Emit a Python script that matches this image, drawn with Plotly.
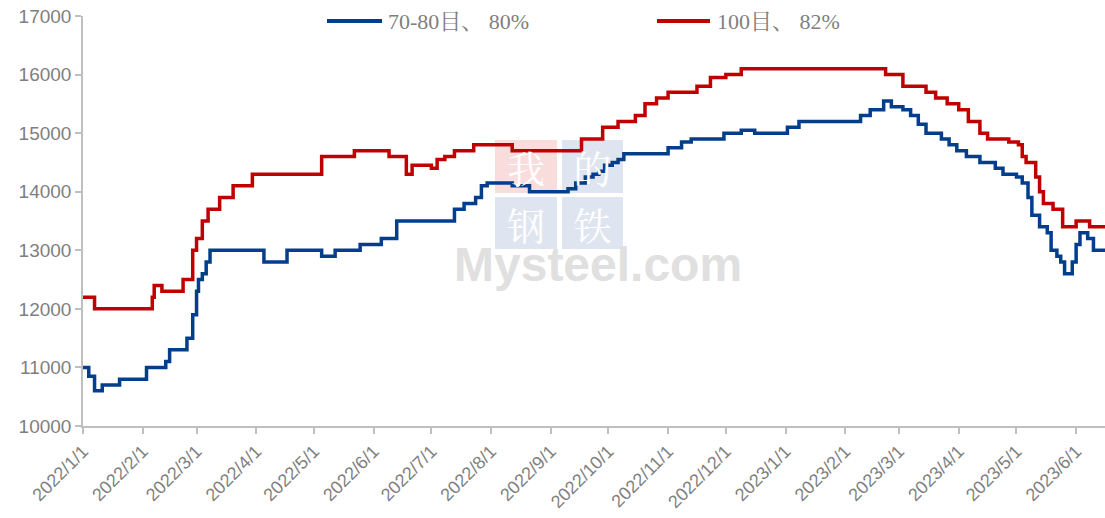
import plotly.graph_objects as go

# ---- data (change points; step line) ----
blue_dates = ["2022-01-01", "2022-01-04", "2022-01-07", "2022-01-11", "2022-01-20", "2022-02-03",
              "2022-02-13", "2022-02-15", "2022-02-24", "2022-02-27", "2022-03-01", "2022-03-02",
              "2022-03-04", "2022-03-06", "2022-03-08", "2022-04-05", "2022-04-17", "2022-05-05",
              "2022-05-12", "2022-05-25", "2022-06-05", "2022-06-13", "2022-07-13", "2022-07-18",
              "2022-07-24", "2022-07-27", "2022-07-30", "2022-08-12", "2022-08-21", "2022-09-10",
              "2022-09-14", "2022-09-19", "2022-09-23", "2022-09-26", "2022-09-29", "2022-10-03",
              "2022-10-06", "2022-10-09", "2022-11-01", "2022-11-08", "2022-11-13", "2022-11-30",
              "2022-12-09", "2022-12-16", "2023-01-02", "2023-01-08", "2023-02-09", "2023-02-14",
              "2023-02-21", "2023-02-25", "2023-03-03", "2023-03-07", "2023-03-11", "2023-03-15",
              "2023-03-23", "2023-03-27", "2023-03-31", "2023-04-05", "2023-04-12", "2023-04-20",
              "2023-04-24", "2023-05-01", "2023-05-04", "2023-05-07", "2023-05-09", "2023-05-13",
              "2023-05-17", "2023-05-19", "2023-05-22", "2023-05-24", "2023-05-26", "2023-05-30",
              "2023-06-01", "2023-06-03", "2023-06-07", "2023-06-10", "2023-06-16"]
blue_values = [11000, 10850, 10600, 10700, 10800, 11000,
               11100, 11300, 11500, 11900, 12300, 12500,
               12600, 12800, 13000, 12800, 13000, 12900,
               13000, 13100, 13200, 13500, 13700, 13800,
               13900, 14100, 14150, 14100, 14000, 14050,
               14150, 14250, 14300, 14350, 14450, 14500,
               14550, 14650, 14750, 14850, 14900, 15000,
               15050, 15000, 15100, 15200, 15300, 15400,
               15550, 15450, 15400, 15300, 15150, 15000,
               14900, 14800, 14700, 14600, 14500, 14400,
               14300, 14250, 14150, 13900, 13600, 13400,
               13300, 13000, 12900, 12800, 12600, 12800,
               13100, 13300, 13200, 13000, 13000]

red_dates = ["2022-01-01", "2022-01-07", "2022-02-06", "2022-02-07", "2022-02-11", "2022-02-22",
             "2022-02-27", "2022-03-01", "2022-03-04", "2022-03-07", "2022-03-13", "2022-03-20",
             "2022-03-30", "2022-05-05", "2022-05-22", "2022-06-09", "2022-06-18", "2022-06-21",
             "2022-07-01", "2022-07-04", "2022-07-08", "2022-07-13", "2022-07-23", "2022-08-12",
             "2022-09-17", "2022-09-28", "2022-10-06", "2022-10-15", "2022-10-20", "2022-10-26",
             "2022-11-01", "2022-11-16", "2022-11-23", "2022-12-01", "2022-12-09", "2023-02-22",
             "2023-03-03", "2023-03-15", "2023-03-20", "2023-03-26", "2023-04-01", "2023-04-06",
             "2023-04-12", "2023-04-16", "2023-04-27", "2023-05-02", "2023-05-04", "2023-05-06",
             "2023-05-11", "2023-05-13", "2023-05-15", "2023-05-20", "2023-05-25", "2023-06-01",
             "2023-06-08", "2023-06-16"]
red_values = [12200, 12000, 12200, 12400, 12300, 12500,
              13000, 13200, 13500, 13700, 13900, 14100,
              14300, 14600, 14700, 14600, 14300, 14450,
              14400, 14550, 14600, 14700, 14800, 14700,
              14900, 15100, 15200, 15300, 15500, 15600,
              15700, 15800, 15950, 16000, 16100, 16000,
              15800, 15700, 15600, 15500, 15400, 15200,
              15000, 14900, 14850, 14800, 14600, 14500,
              14250, 14000, 13800, 13700, 13400, 13500,
              13400, 13400]

series_names = ["70-80目、 80%", "100目、 82%"]
tick_dates = ["2022-01-01", "2022-02-01", "2022-03-01", "2022-04-01", "2022-05-01", "2022-06-01",
              "2022-07-01", "2022-08-01", "2022-09-01", "2022-10-01", "2022-11-01", "2022-12-01",
              "2023-01-01", "2023-02-01", "2023-03-01", "2023-04-01", "2023-05-01", "2023-06-01"]
tick_labels = ["2022/1/1", "2022/2/1", "2022/3/1", "2022/4/1", "2022/5/1", "2022/6/1",
               "2022/7/1", "2022/8/1", "2022/9/1", "2022/10/1", "2022/11/1", "2022/12/1",
               "2023/1/1", "2023/2/1", "2023/3/1", "2023/4/1", "2023/5/1", "2023/6/1"]

BLUE = "#033E8C"
RED = "#C00000"
GRAY = "#7F7F7F"
COLORS = [BLUE, RED]

fig = go.Figure()
fig.add_trace(go.Scatter(x=blue_dates, y=blue_values, name=series_names[0], mode="lines",
                         line=dict(color=BLUE, width=3.5, shape="hv"), showlegend=False))
fig.add_trace(go.Scatter(x=red_dates, y=red_values, name=series_names[1], mode="lines",
                         line=dict(color=RED, width=3.5, shape="hv"), showlegend=False))

# ---- plot area in page pixels ----
L, T, W, H = 83, 16, 1022, 410
def px(x): return (x - L) / W
def py(y): return (T + H - y) / H

shapes = []
annos = []

# watermark
boxes = [(495, 140, 557, 193, "#F9DCDC", "我"),
         (562, 140, 623, 193, "#DFE5F0", "的"),
         (495, 197, 557, 249, "#DFE5F0", "钢"),
         (562, 197, 623, 249, "#DFE5F0", "铁")]
for x0, y0, x1, y1, fill, ch in boxes:
    shapes.append(dict(type="rect", xref="paper", yref="paper", x0=px(x0), x1=px(x1),
                       y0=py(y1), y1=py(y0), fillcolor=fill, line=dict(width=0), layer="below"))
    annos.append(dict(xref="paper", yref="paper", x=px((x0 + x1) / 2), y=py((y0 + y1) / 2),
                      text=ch, showarrow=False, height=y1 - y0 - 2, width=x1 - x0 - 2,
                      font=dict(size=38, color="white", family="Noto Serif CJK SC, Noto Sans CJK SC"),
                      xanchor="center", yanchor="middle"))
annos.append(dict(xref="paper", yref="paper", x=px(598), y=py(264), text="<b>Mysteel.com</b>",
                  showarrow=False, font=dict(size=48, color="#E0E0E0", family="Liberation Sans"),
                  xanchor="center", yanchor="middle"))

# legend (drawn manually so the line sample matches)
leg = [(327, 382, 386), (657, 710, 715)]
for (lx0, lx1, tx), name, col in zip(leg, series_names, COLORS):
    shapes.append(dict(type="line", xref="paper", yref="paper", x0=px(lx0), x1=px(lx1),
                       y0=py(21), y1=py(21), line=dict(color=col, width=4)))
    annos.append(dict(xref="paper", yref="paper", x=px(tx), y=py(21), text=name,
                      showarrow=False, xanchor="left", yanchor="middle",
                      font=dict(size=22, color=GRAY,
                                family="Liberation Serif, Noto Serif CJK SC, Noto Sans CJK SC")))

fig.update_layout(
    width=1105, height=518,
    margin=dict(l=L, r=1105 - L - W, t=T, b=518 - T - H),
    paper_bgcolor="white", plot_bgcolor="white",
    showlegend=False,
    shapes=shapes, annotations=annos,
    xaxis=dict(type="date", range=["2022-01-01", "2023-06-16"], automargin=False,
               tickvals=tick_dates, ticktext=tick_labels, tickangle=-45,
               showgrid=False, zeroline=False, showline=True, linecolor="#BFBFBF", linewidth=1.5,
               ticks="outside", ticklen=6, tickcolor="#BFBFBF", tickwidth=1.5,
               tickfont=dict(size=18, color=GRAY, family="Liberation Sans")),
    yaxis=dict(range=[10000, 17000], dtick=1000, tick0=10000, tickformat="d", automargin=False,
               showgrid=False, zeroline=False, showline=True, linecolor="#BFBFBF", linewidth=1.5,
               ticks="outside", ticklen=6, tickcolor="#BFBFBF", tickwidth=1.5,
               tickfont=dict(size=19, color=GRAY, family="Liberation Sans")),
)

# remove the default 8px page margin so the figure sits at the window's top-left corner
fig.write_html("out.html", config={"displayModeBar": False},
               post_script="document.body.style.margin='0';")
